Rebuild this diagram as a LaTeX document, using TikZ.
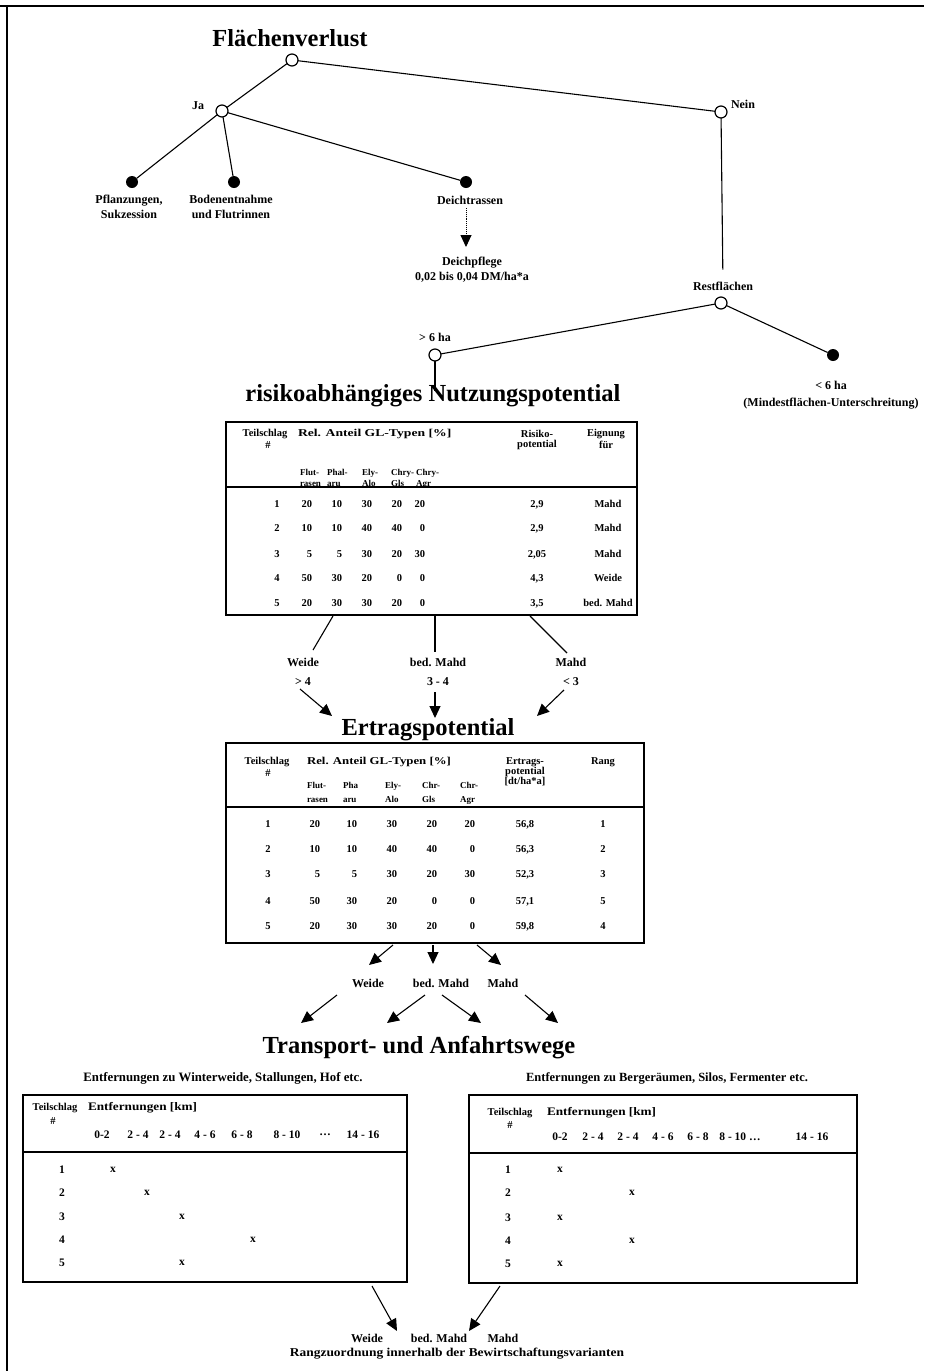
\documentclass[tikz,border=0pt]{standalone}
\usepackage{fontspec}
\usepackage{graphicx}
\setmainfont{Liberation Serif}
\usetikzlibrary{arrows.meta}
\begin{document}
\begin{tikzpicture}[x=1pt,y=-1pt,
  every node/.style={inner sep=0pt, outer sep=0pt},
  ttl/.style={font=\fontsize{24.5}{26}\selectfont\bfseries, anchor=base},
  lbl/.style={font=\fontsize{12}{15}\selectfont\bfseries, align=center},
  tb/.style={font=\fontsize{10.5}{11}\selectfont\bfseries},
  sub/.style={font=\fontsize{9}{10}\selectfont\bfseries},
  tbb/.style={font=\fontsize{11.5}{12}\selectfont\bfseries},
  opn/.style={circle, draw, line width=1.2pt, fill=white, minimum size=12pt},
  fld/.style={circle, fill=black, minimum size=12pt},
  ln/.style={line width=1.1pt},
  arr/.style={line width=1.1pt, -{Triangle[width=11pt,length=12pt]}},
  tbox/.style={draw, line width=1.6pt},
  sepl/.style={line width=1.6pt}
]
\useasboundingbox (0,0) rectangle (924,1371);
\fill[white] (0,0) rectangle (924,1371);
% frame
\draw[line width=2pt] (0,6) -- (924,6);
\draw[line width=2pt] (7,6) -- (7,1371);

% ---------------- top tree ----------------
\node[ttl] (tFl) at (290,46) {Flächenverlust};
\node[opn] (root) at (292,60) {};
\node[opn] (ja) at (222,111) {};
\node[lbl] (jal) at (198,106) {Ja};
\node[opn] (nein) at (721,112) {};
\node[lbl] (neinl) at (743,104) {Nein};
\node[fld] (pfl) at (132,182) {};
\node[fld] (bod) at (234,182) {};
\node[fld] (dei) at (466,182) {};
\node[lbl] (pfll) at (129,207) {Pflanzungen,\\Sukzession};
\node[lbl] (bodl) at (231,207) {Bodenentnahme\\und Flutrinnen};
\node[lbl] (deil) at (470,200) {Deichtrassen};
\node[lbl] (pflege) at (472,270) {Deichpflege\\0,02 bis 0,04 DM/ha*a};
\coordinate (deiA) at (466,208);
\coordinate (deiB) at (466,247);
\draw[ln] (root) -- (ja);
\draw[ln] (root) -- (nein);
\draw[ln] (ja) -- (pfl);
\draw[ln] (ja) -- (bod);
\draw[ln] (ja) -- (dei);
\draw[line width=0.9pt, densely dotted, -{Triangle[width=11pt,length=12pt]}] (deiA) -- (deiB);

\node[lbl] (restl) at (723,286) {Restflächen};
\node[opn] (rest) at (721,303) {};
\draw[ln, shorten >=12pt] (nein) -- (restl);
\node[opn] (gt) at (435,355) {};
\node[lbl] (gtl) at (435,337) {> 6 ha};
\node[fld] (lt) at (833,355) {};
\node[lbl] (ltl) at (831,395) {< 6 ha\\[2pt](Mindestflächen-Unterschreitung)};
\draw[ln] (rest) -- (gt);
\draw[ln] (rest) -- (lt);
\coordinate (gtB) at (435,391);
\draw[ln] (gt) -- (gtB);

% ---------------- table 1 ----------------
\node[ttl] (tRisk) at (433,401) {risikoabhängiges Nutzungspotential};
\node[tbox, minimum width=411pt, minimum height=193pt] (T1) at (431.5,518.5) {};
\draw[sepl] ([yshift=-65pt]T1.north west) -- ([yshift=-65pt]T1.north east);
\node[tb] (h1a) at (265,434) {Teilschlag};
\node[tb] (h1b) at (268,445) {\#};
\node[tb,anchor=west] (h1c) at (298,434) {\scalebox{1.3}[1]{Rel. Anteil GL-Typen [\%]}};
\node[tb] (h1d) at (537,434) {Risiko-};
\node[tb] (h1e) at (537,445) {potential};
\node[tb] (h1f) at (606,434) {Eignung};
\node[tb] (h1g) at (606,445) {für};
\foreach \n/\x/\u/\v in {a/300/Flut-/rasen, b/327/Phal-/aru, c/362/Ely-/Alo, d/391/Chry-/Gls, e/416/Chry-/Agr}{
  \node[sub,anchor=base west] (s1\n) at (\x,475) {\u};
  \node[sub,anchor=base west] (s1\n x) at (\x,486) {\v};
}
\foreach \r/\y/\a/\b/\c/\d/\e/\f/\g in {
 1/503/20/10/30/20/20/{2,9}/Mahd,
 2/527/10/10/40/40/0/{2,9}/Mahd,
 3/553/5/5/30/20/30/{2,05}/Mahd,
 4/577/50/30/20/0/0/{4,3}/Weide,
 5/602/20/30/30/20/0/{3,5}/bed. Mahd}{
 \node[tb,anchor=base] (ta\r n) at (277,\y+4) {\r};
 \node[tb,anchor=base east] (ta\r a) at (312,\y+4) {\a};
 \node[tb,anchor=base east] (ta\r b) at (342,\y+4) {\b};
 \node[tb,anchor=base east] (ta\r c) at (372,\y+4) {\c};
 \node[tb,anchor=base east] (ta\r d) at (402,\y+4) {\d};
 \node[tb,anchor=base east] (ta\r e) at (425,\y+4) {\e};
 \node[tb,anchor=base] (ta\r f) at (537,\y+4) {\f};
 \node[tb,anchor=base] (ta\r g) at (608,\y+4) {\g};
}

% ---------------- between tables 1 and 2 ----------------
\coordinate (a1s) at (333,616); \coordinate (a1e) at (313,650);
\coordinate (a2s) at (435,616); \coordinate (a2e) at (435,652);
\coordinate (a3s) at (530,616); \coordinate (a3e) at (567,653);
\draw[ln] (a1s) -- (a1e);
\draw[ln] (a2s) -- (a2e);
\draw[ln] (a3s) -- (a3e);
\node[lbl] (mW) at (303,672) {Weide\\[4pt]> 4};
\node[lbl] (mB) at (438,672) {bed. Mahd\\[4pt]3 - 4};
\node[lbl] (mM) at (571,672) {Mahd\\[4pt]< 3};
\coordinate (b1s) at (300,689); \coordinate (b1e) at (332,716);
\coordinate (b2s) at (435,692); \coordinate (b2e) at (435,718);
\coordinate (b3s) at (564,690); \coordinate (b3e) at (537,716);
\draw[arr] (b1s) -- (b1e);
\draw[arr] (b2s) -- (b2e);
\draw[arr] (b3s) -- (b3e);

% ---------------- table 2 ----------------
\node[ttl] (tErt) at (428,735) {Ertragspotential};
\node[tbox, minimum width=418pt, minimum height=200pt] (T2) at (435,843) {};
\draw[sepl] ([yshift=-64pt]T2.north west) -- ([yshift=-64pt]T2.north east);
\node[tb] (h2a) at (267,762) {Teilschlag};
\node[tb] (h2b) at (268,773) {\#};
\node[tb,anchor=west] (h2c) at (307,762) {\scalebox{1.22}[1]{Rel. Anteil GL-Typen [\%]}};
\node[tb] (h2d) at (525,762) {Ertrags-};
\node[tb] (h2e) at (525,772) {potential};
\node[tb] (h2f) at (525,782) {[dt/ha*a]};
\node[tb] (h2g) at (603,762) {Rang};
\foreach \n/\x/\u/\v in {a/307/Flut-/rasen, b/343/Pha/aru, c/385/Ely-/Alo, d/422/Chr-/Gls, e/460/Chr-/Agr}{
  \node[sub,anchor=base west] (s2\n) at (\x,788) {\u};
  \node[sub,anchor=base west] (s2\n x) at (\x,802) {\v};
}
\foreach \r/\y/\a/\b/\c/\d/\e/\f/\g in {
 1/823/20/10/30/20/20/{56,8}/1,
 2/848/10/10/40/40/0/{56,3}/2,
 3/873/5/5/30/20/30/{52,3}/3,
 4/900/50/30/20/0/0/{57,1}/5,
 5/925/20/30/30/20/0/{59,8}/4}{
 \node[tb,anchor=base] (tb\r n) at (268,\y+4) {\r};
 \node[tb,anchor=base east] (tb\r a) at (320,\y+4) {\a};
 \node[tb,anchor=base east] (tb\r b) at (357,\y+4) {\b};
 \node[tb,anchor=base east] (tb\r c) at (397,\y+4) {\c};
 \node[tb,anchor=base east] (tb\r d) at (437,\y+4) {\d};
 \node[tb,anchor=base east] (tb\r e) at (475,\y+4) {\e};
 \node[tb,anchor=base] (tb\r f) at (525,\y+4) {\f};
 \node[tb,anchor=base] (tb\r g) at (603,\y+4) {\g};
}

% ---------------- between table 2 and transport ----------------
\coordinate (c1s) at (393,945); \coordinate (c1e) at (369,965);
\coordinate (c2s) at (433,945); \coordinate (c2e) at (433,964);
\coordinate (c3s) at (477,945); \coordinate (c3e) at (501,965);
\draw[arr] (c1s) -- (c1e);
\draw[arr] (c2s) -- (c2e);
\draw[arr] (c3s) -- (c3e);
\node[lbl] (nW) at (368,983) {Weide};
\node[lbl] (nB) at (441,983) {bed. Mahd};
\node[lbl] (nM) at (503,983) {Mahd};
\coordinate (d1s) at (337,995); \coordinate (d1e) at (301,1023);
\coordinate (d2s) at (425,995); \coordinate (d2e) at (387,1023);
\coordinate (d3s) at (442,995); \coordinate (d3e) at (481,1023);
\coordinate (d4s) at (525,995); \coordinate (d4e) at (558,1023);
\draw[arr] (d1s) -- (d1e);
\draw[arr] (d2s) -- (d2e);
\draw[arr] (d3s) -- (d3e);
\draw[arr] (d4s) -- (d4e);

% ---------------- transport tables ----------------
\node[ttl] (tTr) at (419,1053) {Transport- und Anfahrtswege};
\node[lbl, font=\fontsize{12.8}{15}\selectfont\bfseries] (capL) at (223,1078) {Entfernungen zu Winterweide, Stallungen, Hof etc.};
\node[lbl, font=\fontsize{12.5}{15}\selectfont\bfseries] (capR) at (667,1078) {Entfernungen zu Bergeräumen, Silos, Fermenter etc.};

\node[tbox, minimum width=384pt, minimum height=187pt] (T3) at (215,1188.5) {};
\draw[sepl] ([yshift=-57pt]T3.north west) -- ([yshift=-57pt]T3.north east);
\node[tb] (h3a) at (55,1108) {Teilschlag};
\node[tb] (h3b) at (53,1121) {\#};
\node[tbb,anchor=west] (h3c) at (88,1108) {\scalebox{1.15}[1]{Entfernungen [km]}};
\foreach \n/\x/\t in {a/102/0-2, b/138/2 - 4, c/170/2 - 4, d/205/4 - 6, e/242/6 - 8, f/287/8 - 10, g/325/\ldots, h/363/14 - 16}{
  \node[tbb] (k3\n) at (\x,1135) {\t};
}
\foreach \r/\y/\x in {1/1170/113, 2/1193/147, 3/1217/182, 4/1240/253, 5/1263/182}{
  \node[tbb] (r3\r) at (62,\y) {\r};
  \node[tbb] (x3\r) at (\x,\y) {x};
}

\node[tbox, minimum width=388pt, minimum height=188pt] (T4) at (663,1189) {};
\draw[sepl] ([yshift=-58pt]T4.north west) -- ([yshift=-58pt]T4.north east);
\node[tb] (h4a) at (510,1113) {Teilschlag};
\node[tb] (h4b) at (510,1125) {\#};
\node[tbb,anchor=west] (h4c) at (547,1113) {\scalebox{1.15}[1]{Entfernungen [km]}};
\foreach \n/\x/\t in {a/560/0-2, b/593/2 - 4, c/628/2 - 4, d/663/4 - 6, e/698/6 - 8, f/740/8 - 10 \ldots, h/812/14 - 16}{
  \node[tbb] (k4\n) at (\x,1137) {\t};
}
\foreach \r/\y/\x in {1/1170/560, 2/1193/632, 3/1218/560, 4/1241/632, 5/1264/560}{
  \node[tbb] (r4\r) at (508,\y) {\r};
  \node[tbb] (x4\r) at (\x,\y) {x};
}

% ---------------- bottom ----------------
\coordinate (e1s) at (372,1286); \coordinate (e1e) at (397,1331);
\coordinate (e2s) at (500,1286); \coordinate (e2e) at (469,1331);
\draw[arr] (e1s) -- (e1e);
\draw[arr] (e2s) -- (e2e);
\node[lbl] (oW) at (367,1338) {Weide};
\node[lbl] (oB) at (439,1338) {bed. Mahd};
\node[lbl] (oM) at (503,1338) {Mahd};
\node[lbl] (oR) at (457,1354) {\scalebox{1.12}[1]{Rangzuordnung innerhalb der Bewirtschaftungsvarianten}};
\end{tikzpicture}
\end{document}
